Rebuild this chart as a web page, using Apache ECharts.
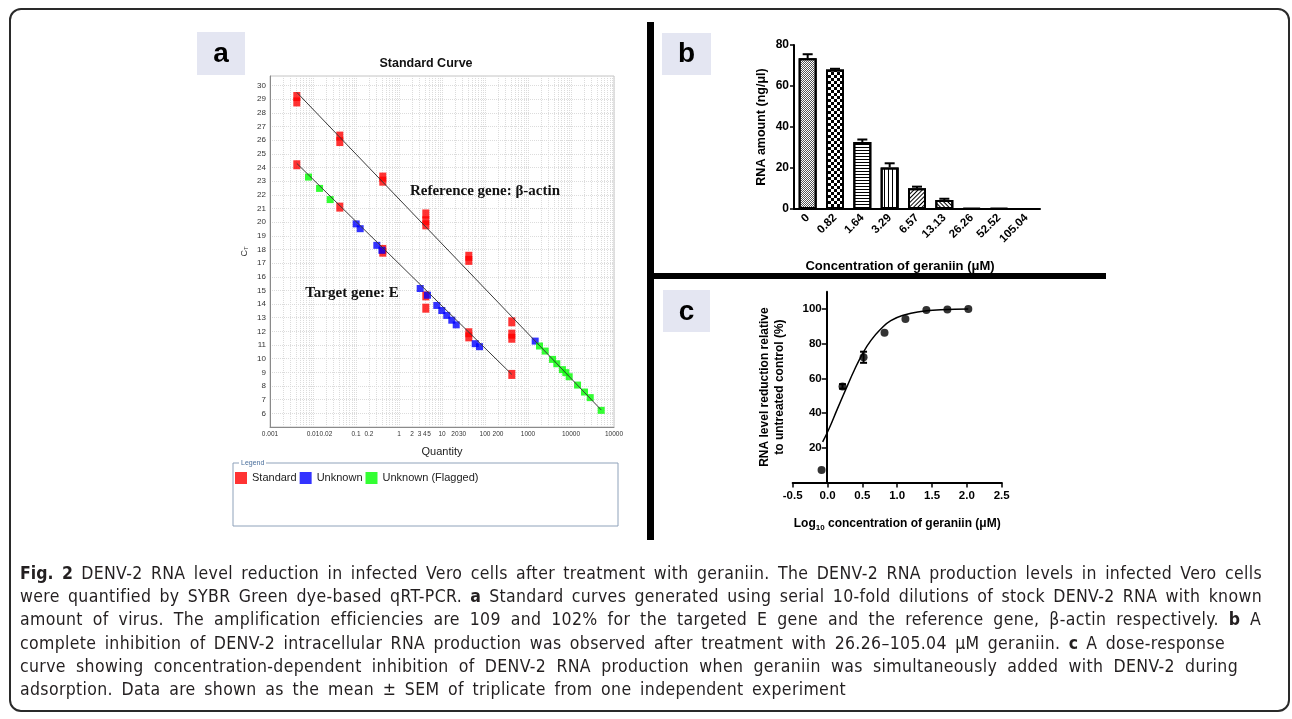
<!DOCTYPE html>
<html><head><meta charset="utf-8">
<script src="https://cdn.jsdelivr.net/npm/echarts@6/dist/echarts.min.js"></script>
<style>
html,body{margin:0;padding:0;background:#fff;width:1292px;height:719px;overflow:hidden;}
#frame{position:absolute;left:9px;top:8px;width:1281px;height:704px;border:2px solid #2a2a2a;border-radius:12px;box-sizing:border-box;}
#chart{position:absolute;left:0;top:0;width:1292px;height:719px;}
#cap{position:absolute;left:20px;top:562px;font-family:"Liberation Sans Narrow","DejaVu Sans Condensed","Arial Narrow",sans-serif;font-size:17.5px;letter-spacing:0.35px;line-height:23.2px;color:#231f20;}
#cap div{text-align:justify;text-align-last:justify;white-space:nowrap;}
#cap b{font-weight:bold;letter-spacing:0;}
</style></head>
<body>
<div id="frame"></div>
<div id="chart"></div>
<div id="cap">
<div style="width:1242px"><b>Fig. 2</b> DENV-2 RNA level reduction in infected Vero cells after treatment with geraniin. The DENV-2 RNA production levels in infected Vero cells</div>
<div style="width:1242px">were quantified by SYBR Green dye-based qRT-PCR. <b>a</b> Standard curves generated using serial 10-fold dilutions of stock DENV-2 RNA with known</div>
<div style="width:1241px">amount of virus. The amplification efficiencies are 109 and 102% for the targeted E gene and the reference gene, β-actin respectively. <b>b</b> A</div>
<div style="width:1205px">complete inhibition of DENV-2 intracellular RNA production was observed after treatment with 26.26–105.04 μM geraniin. <b>c</b> A dose-response</div>
<div style="width:1218px">curve showing concentration-dependent inhibition of DENV-2 RNA production when geraniin was simultaneously added with DENV-2 during</div>
<div style="width:826px">adsorption. Data are shown as the mean ± SEM of triplicate from one independent experiment</div>
</div>
<script>
// ---------- Panel a : standard curve (quantity, Ct) ----------
const standardPts = [[0.0042,29.2],[0.0042,28.8],[0.042,26.3],[0.042,25.9],[0.42,23.3],[0.42,23.0],
  [4.2,20.6],[4.2,20.1],[4.2,19.8],[42,17.5],[42,17.2],[420,12.7],[420,11.8],[420,11.5],
  [0.0042,24.2],[0.042,21.1],[0.42,18.0],[0.42,17.8],[4.2,14.6],[4.2,13.7],[42,11.9],[42,11.6],[420,8.85]];
const unknownPts = [[0.101,19.87],[0.125,19.52],[0.305,18.3],[0.40,17.94],[3.11,15.14],[4.6,14.65],
  [7.57,13.9],[9.9,13.53],[12.9,13.17],[16.9,12.82],[21.4,12.48],[59.2,11.1],[74.5,10.88],[1470,11.29]];
const flaggedPts = [[0.00785,23.3],[0.0142,22.47],[0.0251,21.65],[1850,10.93],[2510,10.56],[3720,9.95],
  [4680,9.63],[6310,9.2],[7590,8.98],[9080,8.68],[14200,8.07],[20600,7.56],[28000,7.15],[50400,6.22]];
const refFit = [[0.0042,29.5],[50400,6.25]];
const targetFit = [[0.0042,24.3],[420,8.85]];
const aTickQty = [0.001,0.01,0.02,0.1,0.2,1,2,3,4,5,10,20,30,100,200,1000,10000,100000];
const aTickText = ['0.001','0.01','0.02','0.1','0.2','1','2','3','4','5','10','20','30','100','200','1000','10000','10000'];
const aYTicks = [6,7,8,9,10,11,12,13,14,15,16,17,18,19,20,21,22,23,24,25,26,27,28,29,30];

// ---------- Panel b : RNA amount bars ----------
const bCats = ['0','0.82','1.64','3.29','6.57','13.13','26.26','52.52','105.04'];
const bVals = [73.5,68.1,32.7,20.3,10.1,4.4,0.5,0.4,0.1];
const bErr  = [2.0,0.3,1.2,2.0,0.8,0.6,0,0,0];

// ---------- Panel c : dose response ----------
const cX   = [-0.086,0.215,0.517,0.818,1.118,1.419,1.720,2.021];
const cY   = [7.2,55.4,72.2,86.4,94.3,99.4,99.8,100];
const cErr = [0,1.3,3.2,0,0,0,0,0];
const curveX = [-0.07,0.023,0.143,0.287,0.382,0.502,0.621,0.765,0.908,1.10,1.34,1.625,2.02];
const curveY = [23.4,31.1,42.6,56.0,64.6,74.2,81.8,88.5,93.3,96.6,98.6,99.6,100];
const cYTicks = [20,40,60,80,100];

const lg = v => Math.log10(v);
const aGridX = [];
for (let d = -3; d <= 4; d++) for (let k = 1; k <= 9; k++) aGridX.push(d + Math.log10(k));
aGridX.push(5);
function aLabel(v){
  let best = 0, bd = 1e9;
  aTickQty.forEach((q,i)=>{ const dd = Math.abs(lg(q)-v); if (dd < bd){bd = dd; best = i;} });
  return aTickText[best];
}

const FONT = '"Liberation Sans", Arial, sans-serif';
const decals = [
  {symbol:'rect', color:'#555', dashArrayX:[[1,1],[0,1,1,0]], dashArrayY:[1,0]},
  {symbol:'rect', color:'#000', dashArrayX:[[3,3],[0,3,3,0]], dashArrayY:[3,0]},
  {symbol:'rect', color:'#000', dashArrayX:[1,0], dashArrayY:[1,2]},
  {symbol:'rect', color:'#000', dashArrayX:[1,3], dashArrayY:[1,0]},
  {symbol:'rect', color:'#000', dashArrayX:[1,0], dashArrayY:[1,2], rotation:-Math.PI/4},
  {symbol:'rect', color:'#000', dashArrayX:[1,0], dashArrayY:[1,2], rotation:Math.PI/4},
  null,null,null
];

function errBar(capHalf, both){
  return function(params, api){
    const x = api.value(0), y = api.value(1), e = api.value(2);
    const top = api.coord([x, y + e]);
    const bot = api.coord([x, both ? y - e : y]);
    const st = {stroke:'#000', lineWidth:2};
    const ch = [
      {type:'line', shape:{x1:top[0], y1:top[1], x2:bot[0], y2:bot[1]}, style:st},
      {type:'line', shape:{x1:top[0]-capHalf, y1:top[1], x2:top[0]+capHalf, y2:top[1]}, style:st}
    ];
    if (both) ch.push({type:'line', shape:{x1:bot[0]-capHalf, y1:bot[1], x2:bot[0]+capHalf, y2:bot[1]}, style:st});
    return {type:'group', children:ch};
  };
}

const chart = echarts.init(document.getElementById('chart'), null, {renderer:'canvas'});
const boldAxis = {fontFamily:FONT, fontWeight:'bold', color:'#000'};

const option = {
  animation:false,
  textStyle:{fontFamily:FONT},
  grid:[
    {left:270, top:76, width:344, height:351, show:true, borderColor:'#c4c4c4', borderWidth:1, backgroundColor:'#fff'},
    {left:794, top:45, width:246, height:164},
    {left:792.7, top:291.7, width:209, height:190.8}
  ],
  legend:{
    data:['Standard','Unknown','Unknown (Flagged)'],
    left:235, top:472, orient:'horizontal', icon:'rect', itemWidth:12, itemHeight:12, itemGap:3, padding:0,
    textStyle:{fontSize:11, color:'#222', fontFamily:FONT}, selectedMode:false
  },
  xAxis:[
    {gridIndex:0, type:'value', min:-3, max:5,
      axisLine:{show:true, onZero:false, lineStyle:{color:'#8a8a8a', width:1}},
      axisTick:{show:false, customValues:aGridX},
      axisLabel:{customValues:aTickQty.map(lg), formatter:aLabel, fontSize:6.5, color:'#333', margin:4},
      splitLine:{show:true, lineStyle:{color:'#dcdcdc', type:'dotted', width:1}},
      name:'Quantity', nameLocation:'middle', nameGap:19, nameTextStyle:{fontSize:11, color:'#222'}},
    {gridIndex:1, type:'category', data:bCats,
      axisLine:{lineStyle:{color:'#000', width:2}},
      axisTick:{alignWithLabel:true, length:4, lineStyle:{color:'#000', width:1.5}},
      axisLabel:Object.assign({rotate:45, fontSize:11.5, margin:7, interval:0}, boldAxis),
      name:'Concentration of geraniin (μM)', nameLocation:'middle', nameGap:51,
      nameTextStyle:Object.assign({fontSize:13, padding:[0,34,0,0]}, boldAxis)},
    {gridIndex:2, type:'value', min:-0.5, max:2.5, interval:0.5,
      axisLine:{onZero:false, lineStyle:{color:'#000', width:2}},
      axisTick:{show:true, length:5, lineStyle:{color:'#000', width:1.5}},
      axisLabel:Object.assign({fontSize:11.5, margin:7, formatter:v=>v.toFixed(1)}, boldAxis),
      splitLine:{show:false},
      name:'Log{s|10} concentration of geraniin (μM)', nameLocation:'middle', nameGap:34,
      nameTextStyle:Object.assign({fontSize:12, rich:{s:{fontSize:8, fontWeight:'bold', fontFamily:FONT, color:'#000', padding:[7,0,0,0]}}}, boldAxis)}
  ],
  yAxis:[
    {gridIndex:0, type:'value', min:5, max:30.7,
      axisLine:{show:true, onZero:false, lineStyle:{color:'#8a8a8a', width:1}},
      axisTick:{show:false, customValues:aYTicks},
      axisLabel:{customValues:aYTicks, fontSize:8, color:'#333', margin:4},
      splitLine:{show:true, lineStyle:{color:'#dcdcdc', type:'dotted', width:1}},
      name:'C{s|T}', nameLocation:'middle', nameGap:21,
      nameTextStyle:{fontSize:9, color:'#333', rich:{s:{fontSize:6, color:'#333', padding:[3,0,0,0]}}}},
    {gridIndex:1, type:'value', min:0, max:80, interval:20,
      axisLine:{show:true, lineStyle:{color:'#000', width:2}},
      axisTick:{show:true, length:4, lineStyle:{color:'#000', width:1.5}},
      axisLabel:Object.assign({fontSize:12, margin:5}, boldAxis),
      splitLine:{show:false},
      name:'RNA amount (ng/μl)', nameLocation:'middle', nameGap:26,
      nameTextStyle:Object.assign({fontSize:12.5}, boldAxis)},
    {gridIndex:2, type:'value', min:0, max:110, offset:-34,
      axisLine:{show:true, onZero:false, lineStyle:{color:'#000', width:2}},
      axisTick:{show:true, length:5, customValues:cYTicks, lineStyle:{color:'#000', width:1.5}},
      axisLabel:Object.assign({fontSize:11.5, margin:5, customValues:cYTicks}, boldAxis),
      splitLine:{show:false},
      name:'RNA level reduction relative\nto untreated control (%)', nameLocation:'middle', nameGap:40,
      nameTextStyle:Object.assign({fontSize:12, lineHeight:15}, boldAxis)}
  ],
  series:[
    {name:'Standard', type:'scatter', xAxisIndex:0, yAxisIndex:0, symbol:'rect', symbolSize:[7,9],
      itemStyle:{color:'#ff0000'}, data:standardPts.map(p=>[lg(p[0]),p[1]]), z:3},
    {name:'Unknown', type:'scatter', xAxisIndex:0, yAxisIndex:0, symbol:'rect', symbolSize:7,
      itemStyle:{color:'#0000ff'}, data:unknownPts.map(p=>[lg(p[0]),p[1]]), z:3},
    {name:'Unknown (Flagged)', type:'scatter', xAxisIndex:0, yAxisIndex:0, symbol:'rect', symbolSize:7,
      itemStyle:{color:'#00ff00'}, data:flaggedPts.map(p=>[lg(p[0]),p[1]]), z:3},
    {name:'refFit', type:'line', xAxisIndex:0, yAxisIndex:0, symbol:'none', silent:true,
      lineStyle:{color:'#3a3a3a', width:1}, data:refFit.map(p=>[lg(p[0]),p[1]]), z:4},
    {name:'targetFit', type:'line', xAxisIndex:0, yAxisIndex:0, symbol:'none', silent:true,
      lineStyle:{color:'#3a3a3a', width:1}, data:targetFit.map(p=>[lg(p[0]),p[1]]), z:4},

    {name:'RNA amount', type:'bar', xAxisIndex:1, yAxisIndex:1, barWidth:18,
      data:bVals.map((v,i)=>({value:v, itemStyle:{color:'#fff', borderColor:'#000', borderWidth:2, decal:decals[i] || undefined}})), z:2},
    {name:'bErr', type:'custom', xAxisIndex:1, yAxisIndex:1, renderItem:errBar(5,false), encode:{x:0,y:1},
      data:bVals.map((v,i)=>[i,v,bErr[i]]).filter(d=>d[2]>0), z:3},

    {name:'fit', type:'line', xAxisIndex:2, yAxisIndex:2, smooth:true, symbol:'none',
      lineStyle:{color:'#000', width:1.5}, data:curveX.map((x,i)=>[x,curveY[i]]), z:2},
    {name:'points', type:'scatter', xAxisIndex:2, yAxisIndex:2, symbol:'circle', symbolSize:8,
      itemStyle:{color:'#000'}, data:cX.map((x,i)=>[x,cY[i]]), z:3},
    {name:'cErr', type:'custom', xAxisIndex:2, yAxisIndex:2, renderItem:errBar(3.5,true), encode:{x:0,y:1},
      data:cX.map((x,i)=>[x,cY[i],cErr[i]]).filter(d=>d[2]>0), z:3}
  ],
  graphic:[
    {type:'rect', shape:{x:647, y:22, width:7, height:518}, style:{fill:'#000'}, silent:true},
    {type:'rect', shape:{x:651, y:273, width:455, height:6}, style:{fill:'#000'}, silent:true},
    {type:'rect', shape:{x:197, y:32, width:48, height:43}, style:{fill:'#e4e6f2'}, silent:true},
    {type:'text', x:221, y:54, style:{text:'a', font:'bold 28px '+FONT, fill:'#000', textAlign:'center', textVerticalAlign:'middle', align:'center', verticalAlign:'middle'}},
    {type:'rect', shape:{x:662, y:33, width:49, height:42}, style:{fill:'#e4e6f2'}, silent:true},
    {type:'text', x:686.5, y:54, style:{text:'b', font:'bold 28px '+FONT, fill:'#000', textAlign:'center', textVerticalAlign:'middle', align:'center', verticalAlign:'middle'}},
    {type:'rect', shape:{x:663, y:290, width:47, height:42}, style:{fill:'#e4e6f2'}, silent:true},
    {type:'text', x:686.5, y:312, style:{text:'c', font:'bold 28px '+FONT, fill:'#000', textAlign:'center', textVerticalAlign:'middle', align:'center', verticalAlign:'middle'}},
    {type:'text', x:426, y:64, style:{text:'Standard Curve', font:'bold 12.5px '+FONT, fill:'#111', textAlign:'center', textVerticalAlign:'middle', align:'center', verticalAlign:'middle'}},
    {type:'text', x:485, y:191, z:10, style:{text:'Reference gene: β-actin', font:'bold 15px "Liberation Serif", "Times New Roman", serif', fill:'#111', textAlign:'center', textVerticalAlign:'middle', align:'center', verticalAlign:'middle'}},
    {type:'text', x:352, y:293, z:10, style:{text:'Target gene: E', font:'bold 15px "Liberation Serif", "Times New Roman", serif', fill:'#111', textAlign:'center', textVerticalAlign:'middle', align:'center', verticalAlign:'middle'}},
    {type:'rect', shape:{x:233, y:463, width:385, height:63}, style:{fill:'none', stroke:'#8fa2ba', lineWidth:1}, silent:true},
    {type:'rect', shape:{x:239, y:459, width:27, height:8}, style:{fill:'#fff'}, silent:true},
    {type:'text', x:241, y:463, style:{text:'Legend', font:'7px '+FONT, fill:'#4a6f9c', textAlign:'left', textVerticalAlign:'middle', align:'left', verticalAlign:'middle'}}
  ]
};
chart.setOption(option);
</script>
</body></html>
